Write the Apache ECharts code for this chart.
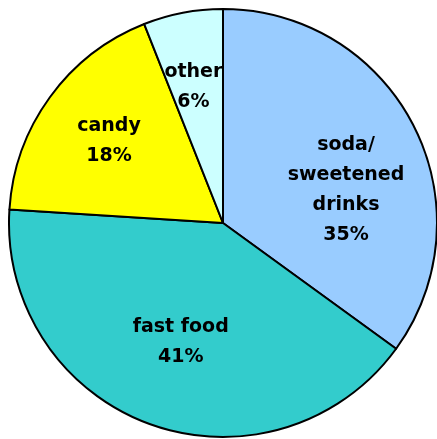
<!DOCTYPE html>
<html>
<head>
<meta charset="utf-8">
<script src="https://cdn.jsdelivr.net/npm/echarts@6/dist/echarts.min.js"></script>
<style>
html,body{margin:0;padding:0;background:#fff;}
#chart{width:437px;height:439px;}
</style>
</head>
<body>
<div id="chart"></div>
<script>
var categories = ["soda/\nsweetened\ndrinks", "fast food", "candy", "other"];
var values = [35, 41, 18, 6];
var colors = ["#99CCFF", "#33CCCC", "#FFFF00", "#CCFFFF"];
var labelShift = [[25, 17], [-5, 16], [-25, -17], [-9, -28]];

var chart = echarts.init(document.getElementById('chart'));
chart.setOption({
  animation: false,
  series: [{
    type: 'pie',
    center: [223, 223],
    radius: [0, 214],
    startAngle: 90,
    clockwise: true,
    data: categories.map(function (c, i) {
      return { name: c, value: values[i], itemStyle: { color: colors[i] } };
    }),
    itemStyle: { borderColor: '#000', borderWidth: 2 },
    label: {
      show: true,
      position: 'inside',
      formatter: function (p) { return p.name + '\n' + p.value + '%'; },
      color: '#000',
      fontFamily: 'DejaVu Sans',
      fontWeight: 'bold',
      fontSize: 19,
      lineHeight: 30,
      align: 'center'
    },
    labelLine: { show: false },
    labelLayout: function (params) {
      var s = labelShift[params.dataIndex];
      return { dx: s[0], dy: s[1] };
    },
    emphasis: { disabled: true }
  }]
});
</script>
</body>
</html>
